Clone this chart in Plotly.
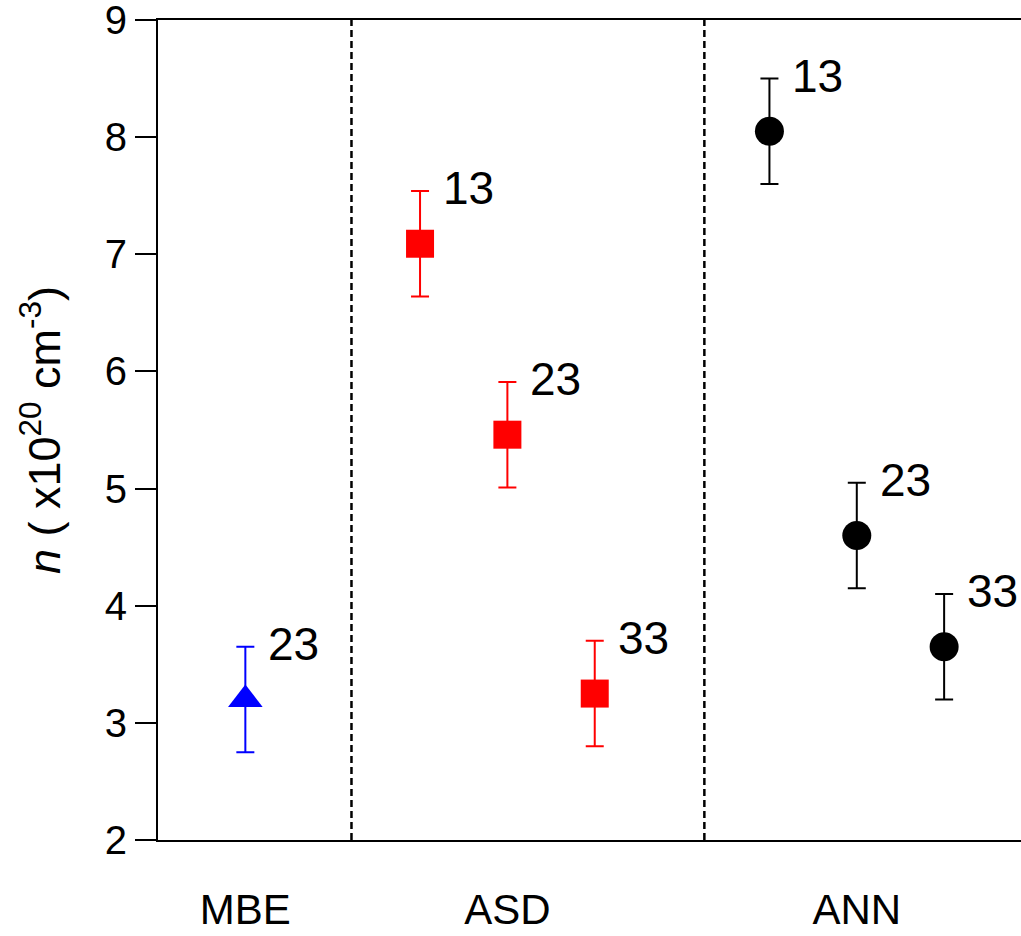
import plotly.graph_objects as go

# Data
groups = ["MBE", "ASD", "ANN"]
group_pos = [1, 4, 8]

mbe_x = [1]
mbe_y = [3.2]
mbe_err = [0.45]
mbe_lbl = ["23"]

asd_x = [3, 4, 5]
asd_y = [7.09, 5.46, 3.25]
asd_err = [0.45, 0.45, 0.45]
asd_lbl = ["13", "23", "33"]

ann_x = [7, 8, 9]
ann_y = [8.05, 4.6, 3.65]
ann_err = [0.45, 0.45, 0.45]
ann_lbl = ["13", "23", "33"]

separators = [2.215, 6.255]

FONT = "Liberation Sans, Arial, Helvetica, sans-serif"

fig = go.Figure()

series = [
    (mbe_x, mbe_y, mbe_err, mbe_lbl, "blue", "triangle-up", 30),
    (asd_x, asd_y, asd_err, asd_lbl, "red", "square", 28),
    (ann_x, ann_y, ann_err, ann_lbl, "black", "circle", 29),
]

for xs, ys, es, lbls, col, sym, sz in series:
    fig.add_trace(go.Scatter(
        x=xs, y=ys, mode="markers",
        marker=dict(symbol=sym, size=sz, color=col, line=dict(width=0)),
        error_y=dict(type="data", array=es, visible=True, color=col,
                     thickness=2, width=9),
        showlegend=False,
    ))
    for x, y, e, t in zip(xs, ys, es, lbls):
        fig.add_annotation(x=x, y=y + e, text=t, showarrow=False,
                           xanchor="left", yanchor="middle",
                           xshift=21, yshift=3,
                           font=dict(family=FONT, size=46, color="black"))

for s in separators:
    fig.add_shape(type="line", x0=s, x1=s, y0=2, y1=9, xref="x", yref="y",
                  line=dict(color="black", width=2.5, dash="7px,4px"), layer="below")

fig.update_layout(
    width=1021, height=936,
    margin=dict(l=158, r=0, t=20, b=96),
    plot_bgcolor="white", paper_bgcolor="white",
    font=dict(family=FONT, size=40, color="black"),
    xaxis=dict(
        range=[0, 9.88], showgrid=False, zeroline=False, automargin=False,
        showline=True, linecolor="black", linewidth=2, mirror=True,
        tickvals=group_pos, ticktext=groups,
        ticks="outside", ticklen=32, tickcolor="rgba(0,0,0,0)",
        tickfont=dict(family=FONT, size=42, color="black"),
    ),
    yaxis=dict(
        range=[2, 9], showgrid=False, zeroline=False, automargin=False,
        showline=True, linecolor="black", linewidth=2,
        tickvals=[2, 3, 4, 5, 6, 7, 8, 9],
        ticks="outside", ticklen=21, tickwidth=2, tickcolor="black",
        ticklabeloverflow="allow",
        tickfont=dict(family=FONT, size=40, color="black"),
        title=dict(text="<i>n</i> ( x10<sup>20</sup> cm<sup>-3</sup>)",
                   font=dict(family=FONT, size=45, color="black"),
                   standoff=30),
    ),
)

fig.write_html(
    "out.html",
    config={"displayModeBar": False},
    post_script="document.body.style.margin='0';document.body.style.overflow='hidden';",
)
